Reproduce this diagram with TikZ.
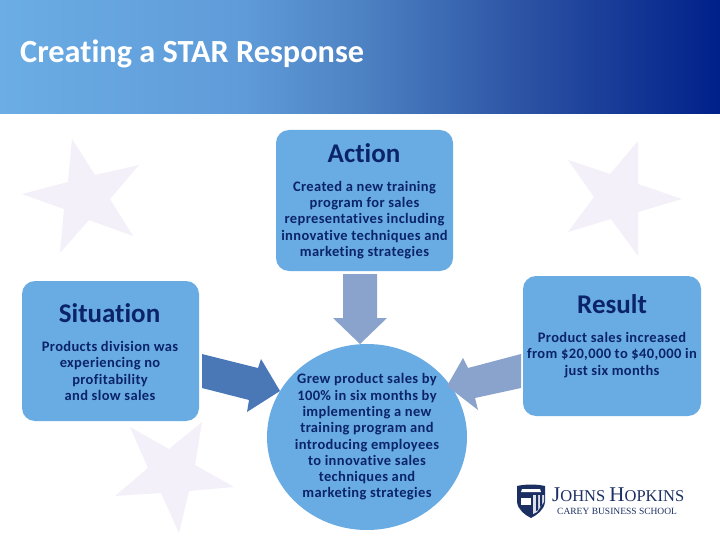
\documentclass[tikz,border=0pt]{standalone}
\usepackage{fontspec}
\setmainfont[Ligatures=CommonOff]{Carlito}
\newfontfamily\bodyf[LetterSpace=2.5,Ligatures=CommonOff]{Carlito}
\newfontfamily\logof{Liberation Serif}
\usetikzlibrary{shapes.geometric}
\definecolor{boxblue}{HTML}{69ABE3}
\definecolor{ink}{HTML}{0B2468}
\definecolor{starc}{HTML}{F3F0F9}
\definecolor{arrowlight}{HTML}{8AA3CC}
\definecolor{arrowdark}{HTML}{4A78B6}
\definecolor{logoblue}{HTML}{1C2F63}
\definecolor{hdra}{HTML}{6BADE5}
\definecolor{hdrb}{HTML}{5F9BD8}
\definecolor{hdrmid}{HTML}{4D82C3}
\definecolor{hdrmid2}{HTML}{2A50A2}
\definecolor{hdrend}{HTML}{00208A}
\pgfdeclarehorizontalshading{hdrshade}{100bp}{
 color(0bp)=(hdra);
 color(25bp)=(hdra);
 color(42bp)=(hdrb);
 color(50bp)=(hdrmid);
 color(62bp)=(hdrmid2);
 color(75bp)=(hdrend);
 color(100bp)=(hdrend)}
\tikzset{
 cardbox/.style={fill=boxblue,draw=none,rounded corners=13pt,minimum width=#1,inner sep=0pt},
 headtxt/.style={text=ink,font=\fontsize{27}{30}\selectfont\bfseries,inner sep=0pt},
 bodytxt/.style={text=ink,align=center,inner sep=0pt,font=\bodyf\fontsize{14.5}{16.3}\selectfont\bfseries},
 starshape/.style={fill=starc,draw=none},
 barlight/.style={fill=arrowlight,draw=none},
 bardark/.style={fill=arrowdark,draw=none}
}
\begin{document}
\begin{tikzpicture}[x=1pt,y=-1pt]
\useasboundingbox (0,0) rectangle (720,540);
\fill[white] (0,0) rectangle (720,540);
\shade[shading=hdrshade] (0,0) rectangle (720,114);
\node[anchor=west,text=white,inner sep=0pt,font=\fontsize{32.3}{36}\selectfont\bfseries] (title) at (20,53.5) {Creating a STAR Response};
% stars
\fill[starshape] (72,139)--(95,175)--(139,165)--(110,199)--(133,236)--(89,220)--(60,253)--(64,209)--(22,194)--(68,182)--cycle;
\fill[starshape] (638,141)--(638,184)--(682,199)--(638,212)--(638,256)--(611,219)--(568,232)--(594,197)--(568,160)--(610,174)--cycle;
\fill[starshape] (130,427)--(169,449)--(202,422)--(195,465)--(234,487)--(189,491)--(179,533)--(161,493)--(115,496)--(148,468)--cycle;
% boxes
\node[cardbox=177pt,minimum height=141pt] (action) at (364.5,200.5) {};
\node[cardbox=177pt,minimum height=140pt] (situation) at (110.5,351) {};
\node[cardbox=178pt,minimum height=140pt] (result) at (612,346) {};
\node[ellipse,fill=boxblue,draw=none,minimum width=200pt,minimum height=186pt,inner sep=0pt] (center) at (367,437) {};
% arrows
\fill[barlight] (343,274)--(377,274)--(377,318)--(387,318)--(360,344)--(333,318)--(343,318)--cycle;
\fill[bardark] (202,354)--(258,368)--(261,359)--(280,391)--(247,412)--(249,400)--(202,388)--cycle;
\fill[barlight] (521,354)--(468,368)--(463,358)--(447,386)--(478,410)--(475,398)--(521,388)--cycle;
% text
\node[headtxt] (acth) at (364,153.5) {Action};
\node[bodytxt] (actt) at (364.5,220) {Created a new training\\program for sales\\representatives including\\innovative techniques and\\marketing strategies};
\node[headtxt] (sith) at (109.5,313) {Situation};
\node[bodytxt] (sitt) at (110,371) {Products division was\\experiencing no\\profitability\\and slow sales};
\node[headtxt] (resh) at (612,304.5) {Result};
\node[bodytxt] (rest) at (612,355) {Product sales increased\\from \$20,000 to \$40,000 in\\just six months};
\node[bodytxt] (cent) at (367,437) {Grew product sales by\\100\% in six months by\\implementing a new\\training program and\\introducing employees\\to innovative sales\\techniques and\\marketing strategies};
% logo
\fill[logoblue] (517,486)..controls (526,484) and (536,484) ..(545,486)--(545,502)..controls (544,510) and (537,515) ..(531,518)..controls (525,515) and (518,510) ..(517,502)--cycle;
\fill[white] (522,489)--(540,489)--(541,492)--(521,492)--cycle;
\fill[white!85!logoblue] (533,495)--(544,495)--(544,502)--(537,512)--(533,514)--cycle;
\fill[logoblue] (536,495)--(538,495)--(538,510)--(536,511)--cycle;
\fill[logoblue] (540,495)--(542,495)--(542,505)--(540,507)--cycle;
\fill[white] (521,498) rectangle (531,505);
\node[anchor=west,inner sep=0pt,text=logoblue,font=\logof\fontsize{21}{22}\selectfont] (jhu) at (552,495) {J\fontsize{16.5}{22}\selectfont OHNS \fontsize{21}{22}\selectfont H\fontsize{16.5}{22}\selectfont OPKINS};
\node[anchor=west,inner sep=0pt,text=logoblue,font=\logof\fontsize{9.5}{11}\selectfont] (carey) at (557,511.5) {CAREY BUSINESS SCHOOL};
\end{tikzpicture}
\end{document}
